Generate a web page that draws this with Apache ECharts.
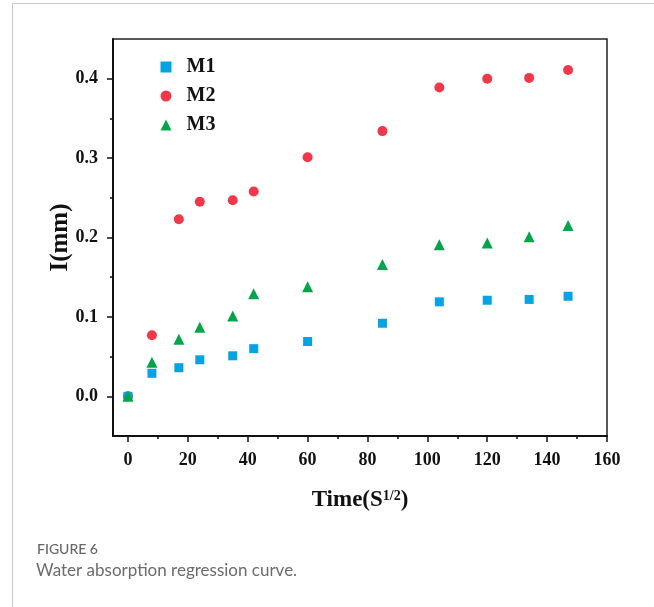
<!DOCTYPE html>
<html lang="en">
<head>
<meta charset="UTF-8">
<title>Water absorption regression curve</title>
<script src="https://cdn.jsdelivr.net/npm/echarts@6/dist/echarts.min.js"></script>
<style>
  html, body { margin: 0; padding: 0; background: #fff; }
  #chart { width: 654px; height: 607px; }
</style>
</head>
<body>
<div id="chart"></div>
<script>
// time (S^1/2)
var times = [0, 8, 17, 24, 35, 42, 60, 85, 104, 120, 134, 147];
var m1 = [0, 0.029, 0.036, 0.046, 0.051, 0.060, 0.069, 0.092, 0.119, 0.121, 0.122, 0.126];
var m2 = [0, 0.077, 0.223, 0.245, 0.247, 0.258, 0.301, 0.334, 0.389, 0.400, 0.401, 0.411];
var m3 = [0, 0.043, 0.072, 0.087, 0.101, 0.129, 0.138, 0.166, 0.191, 0.193, 0.201, 0.215];

var xTicks = [0, 20, 40, 60, 80, 100, 120, 140, 160];
var xMinor = [10, 30, 50, 70, 90, 110, 130, 150];
var yTicks = [0, 0.1, 0.2, 0.3, 0.4];
var yMinor = [0.05, 0.15, 0.25, 0.35];

var serif = '"Liberation Serif", "Times New Roman", serif';

function pairs(ys) {
  var out = [];
  for (var i = 0; i < times.length; i++) out.push([times[i], ys[i]]);
  return out;
}

var chart = echarts.init(document.getElementById('chart'));

var tickLine = { color: '#111', width: 1.5 };
var labelFont = { fontFamily: serif, fontWeight: 'bold', fontSize: 18, color: '#111' };

var option = {
  animation: false,
  grid: {
    left: 113, top: 39, right: 47, bottom: 171,
    show: true, borderColor: '#222', borderWidth: 1.5, backgroundColor: 'transparent'
  },
  legend: {
    orient: 'vertical',
    left: 160.5, top: 57, padding: 0,
    itemWidth: 11, itemHeight: 11, itemGap: 9,
    textStyle: { fontFamily: serif, fontWeight: 'bold', fontSize: 20, color: '#111', padding: [0, 0, 0, 10] },
    data: ['M1', 'M2', 'M3']
  },
  xAxis: [{
    type: 'value', min: -5, max: 160,
    axisLine: { show: true, onZero: false, lineStyle: { color: '#111', width: 2 } },
    axisTick: { show: true, length: 6, lineStyle: tickLine, customValues: xTicks },
    splitLine: { show: false },
    axisLabel: Object.assign({ margin: 15, customValues: xTicks }, labelFont),
    name: 'Time(S{sup|1/2})',
    nameLocation: 'middle', nameGap: 53,
    nameTextStyle: {
      fontFamily: serif, fontWeight: 'bold', fontSize: 23, color: '#111',
      rich: { sup: { fontFamily: serif, fontWeight: 'bold', fontSize: 14, color: '#111', verticalAlign: 'top', padding: [0, 0, 9, 0] } }
    }
  }, {
    type: 'value', min: -5, max: 160, position: 'bottom',
    axisLine: { show: false, onZero: false },
    axisTick: { show: true, length: 3, lineStyle: tickLine, customValues: xMinor },
    axisLabel: { show: false },
    splitLine: { show: false }
  }],
  yAxis: [{
    type: 'value', min: -0.05, max: 0.45,
    axisLine: { show: true, onZero: false, lineStyle: { color: '#111', width: 2 } },
    axisTick: { show: true, length: 6, lineStyle: tickLine, customValues: yTicks },
    splitLine: { show: false },
    axisLabel: Object.assign({
      margin: 15, customValues: yTicks,
      formatter: function (v) { return v.toFixed(1); }
    }, labelFont),
    name: 'I(mm)',
    nameLocation: 'middle', nameGap: 40, nameRotate: 90, nameMoveOverlap: false,
    nameTextStyle: { fontFamily: serif, fontWeight: 'bold', fontSize: 25, color: '#111' }
  }, {
    type: 'value', min: -0.05, max: 0.45, position: 'left',
    axisLine: { show: false, onZero: false },
    axisTick: { show: true, length: 3, lineStyle: tickLine, customValues: yMinor },
    axisLabel: { show: false },
    splitLine: { show: false }
  }],
  graphic: [
    { type: 'line', shape: { x1: 12.5, y1: 3.5, x2: 654, y2: 3.5 }, style: { stroke: '#c8c8c8', lineWidth: 1 } },
    { type: 'line', shape: { x1: 12.5, y1: 3.5, x2: 12.5, y2: 607 }, style: { stroke: '#c8c8c8', lineWidth: 1 } },
    { type: 'text', left: 37, top: 542, style: { text: 'FIGURE 6', fill: '#666', font: '500 14px Lato, sans-serif' } },
    { type: 'text', left: 36, top: 562, style: { text: 'Water absorption regression curve.', fill: '#6b6b6b', font: '17px Lato, sans-serif' } }
  ],
  series: [
    { name: 'M1', type: 'scatter', symbol: 'rect', symbolSize: 9, itemStyle: { color: '#05a3e2', opacity: 1 }, data: pairs(m1), z: 3 },
    { name: 'M2', type: 'scatter', symbol: 'circle', symbolSize: 10, itemStyle: { color: '#f0384a', opacity: 1 }, data: pairs(m2), z: 2 },
    { name: 'M3', type: 'scatter', symbol: 'triangle', symbolSize: 11, itemStyle: { color: '#04a54a', opacity: 1 }, data: pairs(m3), z: 4 }
  ]
};

chart.setOption(option);
</script>
</body>
</html>
